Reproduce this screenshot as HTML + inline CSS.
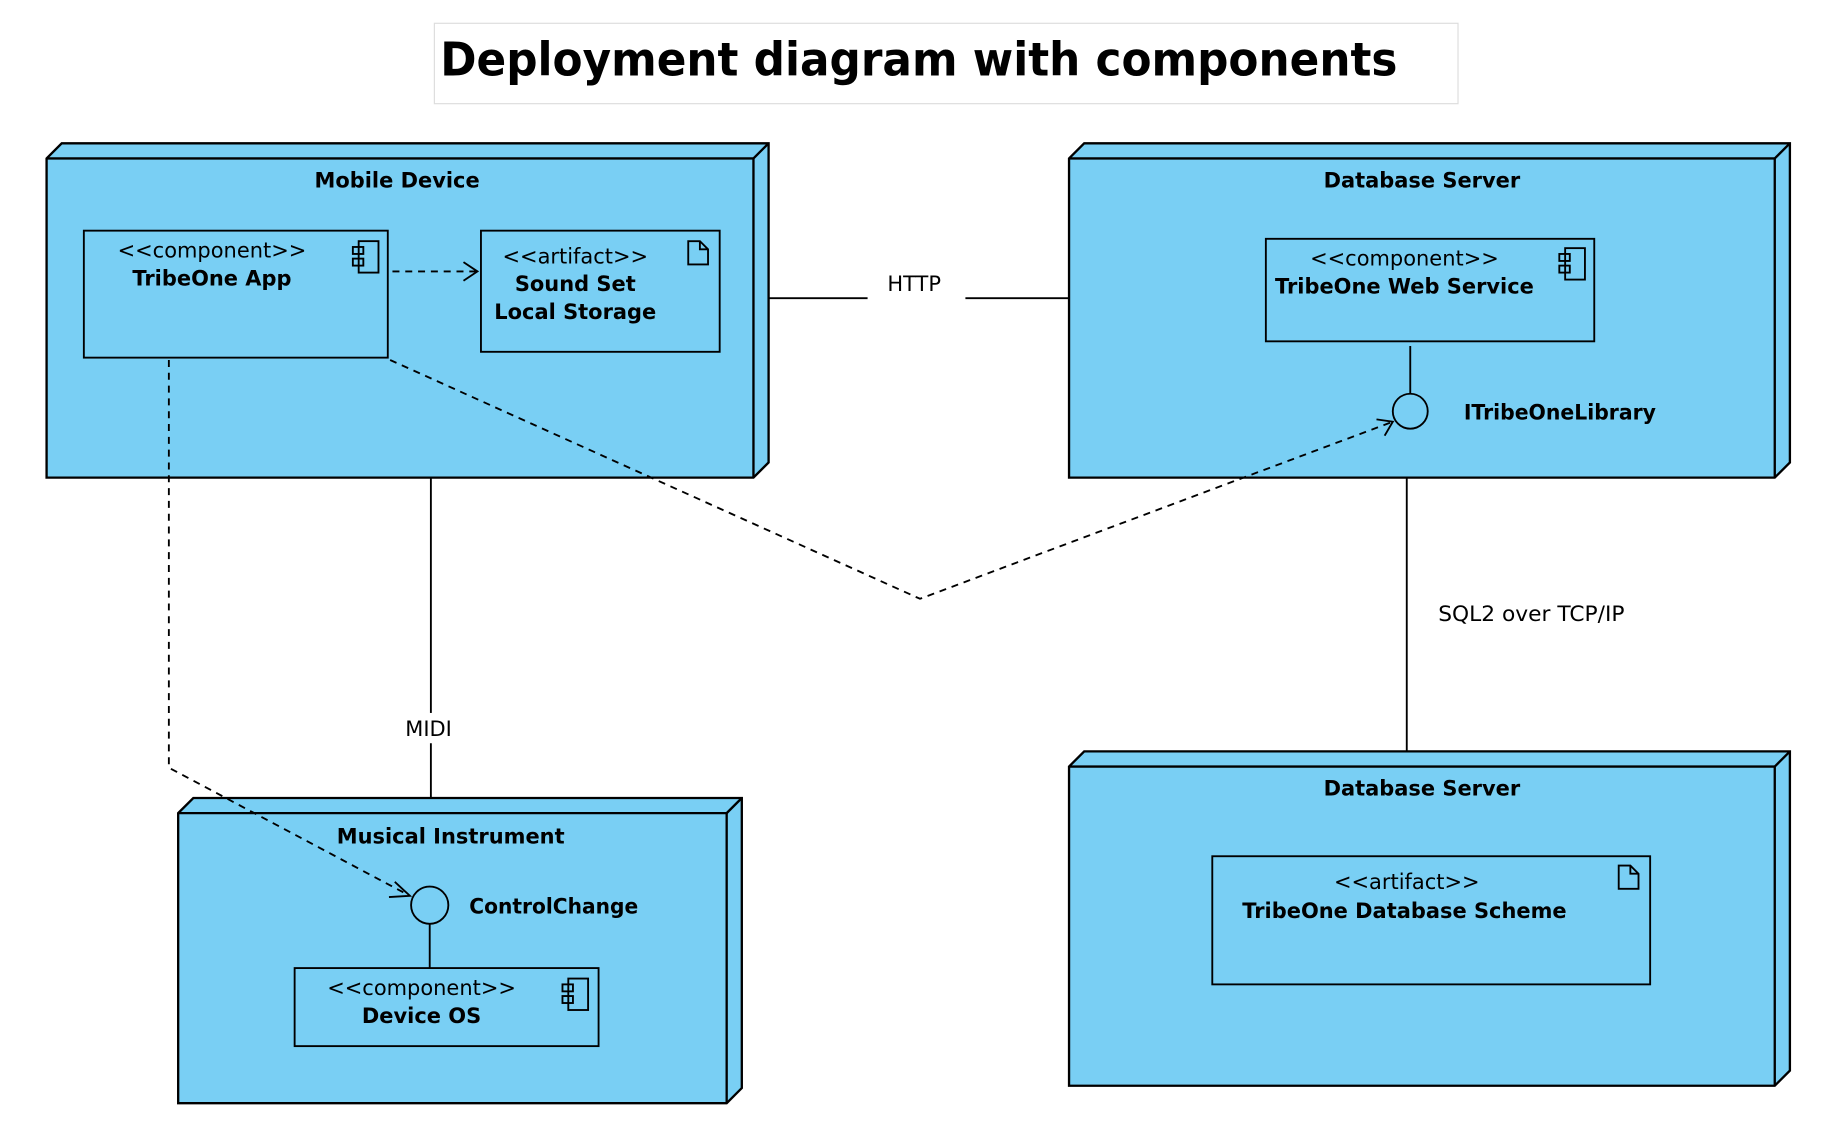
<!DOCTYPE html>
<html><head><meta charset="utf-8"><style>html,body{margin:0;padding:0;background:#fff}svg{display:block}</style></head><body>
<svg width="1826" height="1130" viewBox="0 0 1568 970" preserveAspectRatio="none" xmlns="http://www.w3.org/2000/svg" font-family="'DejaVu Sans','Liberation Sans',sans-serif">
<rect x="373" y="20" width="879" height="69" fill="#fff" stroke="#ddd"/>
<text x="378" y="65" font-size="40" font-weight="bold" textLength="822" lengthAdjust="spacingAndGlyphs">Deployment diagram with components</text>
<g fill="#79cff4" stroke="#000" stroke-width="2">
<polygon points="40,136 53,123 660,123 660,397 647,410 40,410"/>
<polyline points="40,136 647,136 647,410" fill="none"/><line x1="647" y1="136" x2="660" y2="123"/>
<polygon points="918,136 931,123 1537,123 1537,397 1524,410 918,410"/>
<polyline points="918,136 1524,136 1524,410" fill="none"/><line x1="1524" y1="136" x2="1537" y2="123"/>
<polygon points="153,698 166,685 637,685 637,934 624,947 153,947"/>
<polyline points="153,698 624,698 624,947" fill="none"/><line x1="624" y1="698" x2="637" y2="685"/>
<polygon points="918,658 931,645 1537,645 1537,919 1524,932 918,932"/>
<polyline points="918,658 1524,658 1524,932" fill="none"/><line x1="1524" y1="658" x2="1537" y2="645"/>
</g>
<g fill="none" stroke="#000" stroke-width="1.6">
<rect x="72" y="198" width="261" height="109"/>
<rect x="413" y="198" width="205" height="104"/>
<rect x="1087" y="205" width="282" height="88"/>
<rect x="253" y="831" width="261" height="67"/>
<rect x="1041" y="735" width="376" height="110"/>
<rect x="308" y="207" width="17" height="27"/><rect x="303" y="212" width="9" height="6"/><rect x="303" y="222" width="9" height="6"/>
<rect x="1344" y="213" width="17" height="27"/><rect x="1339" y="218" width="9" height="6"/><rect x="1339" y="228" width="9" height="6"/>
<rect x="488" y="840" width="17" height="27"/><rect x="483" y="845" width="9" height="6"/><rect x="483" y="855" width="9" height="6"/>
<path d="M591,207 h10 l7,7 v13 h-17 z M601,207 v7 h7"/>
<path d="M1390,743 h10 l7,7 v13 h-17 z M1400,743 v7 h7"/>
<line x1="660" y1="256" x2="918" y2="256"/>
<line x1="370" y1="410" x2="370" y2="685"/>
<line x1="1208" y1="410" x2="1208" y2="645"/>
<line x1="1211" y1="297" x2="1211" y2="338"/>
<circle cx="1211" cy="353" r="15"/>
<line x1="369" y1="793" x2="369" y2="831"/>
<circle cx="369" cy="777" r="16"/>
<g stroke-dasharray="6,5">
<line x1="337" y1="233" x2="410" y2="233"/>
<polyline points="335,309 790,514 1196,362"/>
<polyline points="145,309 145,659 352,769"/>
</g>
<polyline points="398,225 410,233 398,241"/>
<polyline points="1182,360 1196,362 1189,374"/>
<polyline points="339,757 352,769 334,770"/>
</g>
<rect x="745" y="246" width="84" height="12" fill="#fff"/>
<rect x="340" y="612" width="60" height="26" fill="#fff"/>
<g font-size="18">
<text x="785" y="250" text-anchor="middle">HTTP</text>
<text x="368" y="632" text-anchor="middle">MIDI</text>
<text x="1235" y="533" textLength="160" lengthAdjust="spacingAndGlyphs">SQL2 over TCP/IP</text>
<text x="182" y="221" text-anchor="middle">&lt;&lt;component&gt;&gt;</text>
<text x="494" y="226" text-anchor="middle">&lt;&lt;artifact&gt;&gt;</text>
<text x="1206" y="228" text-anchor="middle">&lt;&lt;component&gt;&gt;</text>
<text x="362" y="854" text-anchor="middle">&lt;&lt;component&gt;&gt;</text>
<text x="1208" y="763" text-anchor="middle">&lt;&lt;artifact&gt;&gt;</text>
</g>
<g font-size="18" font-weight="bold">
<text x="341" y="161" text-anchor="middle">Mobile Device</text>
<text x="1221" y="161" text-anchor="middle">Database Server</text>
<text x="387" y="724" text-anchor="middle">Musical Instrument</text>
<text x="1221" y="683" text-anchor="middle">Database Server</text>
<text x="182" y="245" text-anchor="middle">TribeOne App</text>
<text x="494" y="250" text-anchor="middle">Sound Set</text>
<text x="494" y="274" text-anchor="middle">Local Storage</text>
<text x="1206" y="252" text-anchor="middle">TribeOne Web Service</text>
<text x="1257" y="360" textLength="165" lengthAdjust="spacingAndGlyphs">ITribeOneLibrary</text>
<text x="403" y="784" textLength="145" lengthAdjust="spacingAndGlyphs">ControlChange</text>
<text x="362" y="878" text-anchor="middle">Device OS</text>
<text x="1206" y="788" text-anchor="middle">TribeOne Database Scheme</text>
</g>
</svg>
</body></html>
